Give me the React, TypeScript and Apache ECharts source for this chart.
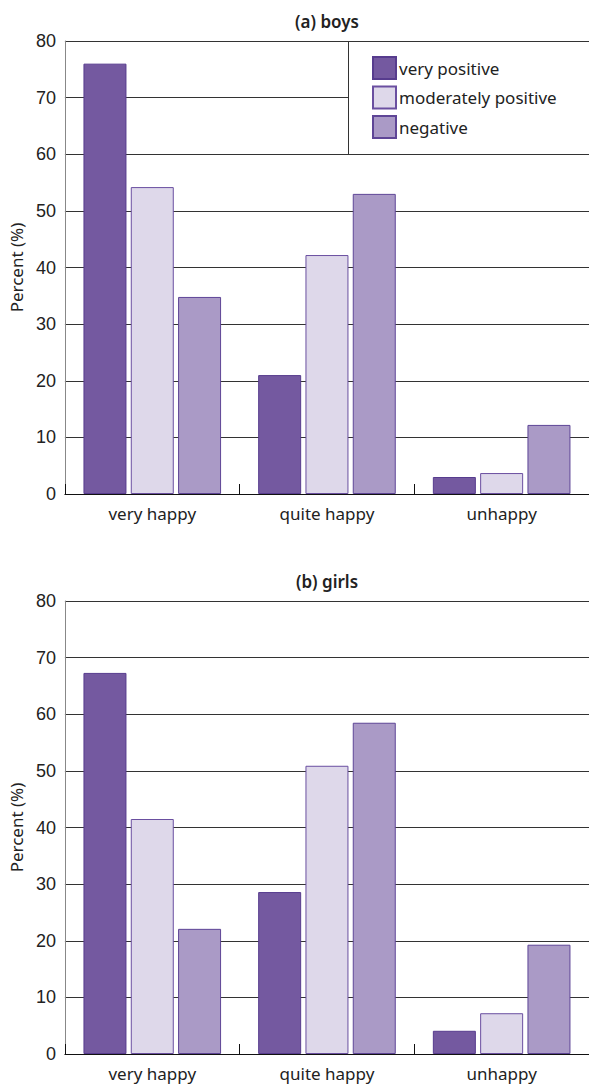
import React, { useEffect, useRef } from "react";
import * as echarts from "echarts";

const categories = ["very happy", "quite happy", "unhappy"];
const seriesNames = ["very positive", "moderately positive", "negative"];
const boysVeryPositive = [76.0, 21.0, 3.0];
const boysModerately = [54.2, 42.2, 3.7];
const boysNegative = [34.8, 53.0, 12.2];
const girlsVeryPositive = [67.3, 28.6, 4.1];
const girlsModerately = [41.5, 50.9, 7.2];
const girlsNegative = [22.1, 58.5, 19.3];
const yTicks = { min: 0, max: 80, interval: 10 };
const titles = ["(a) boys", "(b) girls"];

const fills = ["#7459A0", "#DED8EA", "#AA9AC6"];
const borders = ["#573C8E", "#6A4FA0", "#5E4596"];

export default function App() {
  const ref = useRef<HTMLDivElement>(null);
  useEffect(() => {
    if (!ref.current) return;
    const chart = echarts.init(ref.current, null, { renderer: "svg" });
    const labelFont = "'Noto Sans', sans-serif";
    const grids = [
      { left: 63, right: -2, top: 41, height: 453 },
      { left: 63, right: -2, top: 601, height: 453 },
    ];
    const xAxis = grids.map((_, i) => ({
      type: "category",
      gridIndex: i,
      data: categories,
      axisLine: { show: true, lineStyle: { color: "#111", width: 1 } },
      axisTick: { show: true, inside: true, length: 10, interval: 0, lineStyle: { color: "#111" } },
      axisLabel: { margin: 11, fontSize: 17, color: "#222", fontFamily: labelFont },
      splitLine: { show: false },
    }));
    const yAxis = grids.map((_, i) => ({
      type: "value",
      gridIndex: i,
      min: yTicks.min,
      max: yTicks.max,
      interval: yTicks.interval,
      name: "Percent (%)",
      nameLocation: "middle",
      nameRotate: 90,
      nameGap: 36,
      nameTextStyle: { fontSize: 17, color: "#222", fontFamily: labelFont },
      axisLine: { show: true, lineStyle: { color: "#888", width: 1 } },
      axisTick: { show: false },
      axisLabel: { margin: 9, fontSize: 18, color: "#222", fontFamily: "'Liberation Sans', Arial, sans-serif" },
      splitLine: { show: true, lineStyle: { color: "#333", width: 1 } },
    }));
    const data = [
      [boysVeryPositive, boysModerately, boysNegative],
      [girlsVeryPositive, girlsModerately, girlsNegative],
    ];
    const series: any[] = [];
    data.forEach((group, gi) => {
      group.forEach((vals, si) => {
        series.push({
          type: "bar",
          name: seriesNames[si],
          xAxisIndex: gi,
          yAxisIndex: gi,
          data: vals,
          barWidth: 43,
          barGap: "10%",
          itemStyle: { color: fills[si], borderColor: borders[si], borderWidth: 1 },
        });
      });
    });
    chart.setOption({
      animation: false,
      grid: grids,
      xAxis,
      yAxis,
      series,
      legend: {
        data: seriesNames.map((n) => ({ name: n, icon: "rect" })),
        orient: "vertical",
        left: 372,
        top: 56,
        padding: 0,
        itemWidth: 23,
        itemHeight: 22,
        itemGap: 5.5,
        selectedMode: false,
        textStyle: { fontSize: 17, color: "#222", fontFamily: labelFont, padding: [0, 0, 0, -2] },
      },
      graphic: [
        {
          type: "rect",
          z: 3,
          shape: { x: 349, y: 42, width: 250, height: 112 },
          style: { fill: "#fff" },
        },
        {
          type: "line",
          z: 3,
          shape: { x1: 348.5, y1: 41, x2: 348.5, y2: 155 },
          style: { stroke: "#333", lineWidth: 1 },
        },
        ...titles.map((t, i) => ({
          type: "text",
          x: 327,
          y: i === 0 ? 21 : 581,
          style: {
            text: t,
            align: "center",
            verticalAlign: "middle",
            font: `600 17px ${labelFont}`,
            fill: "#222",
          },
        })),
      ],
    });
    return () => chart.dispose();
  }, []);
  return (
    <div
      ref={ref}
      style={{ position: "fixed", left: 0, top: 0, width: 589, height: 1084, background: "#fff" }}
    />
  );
}
